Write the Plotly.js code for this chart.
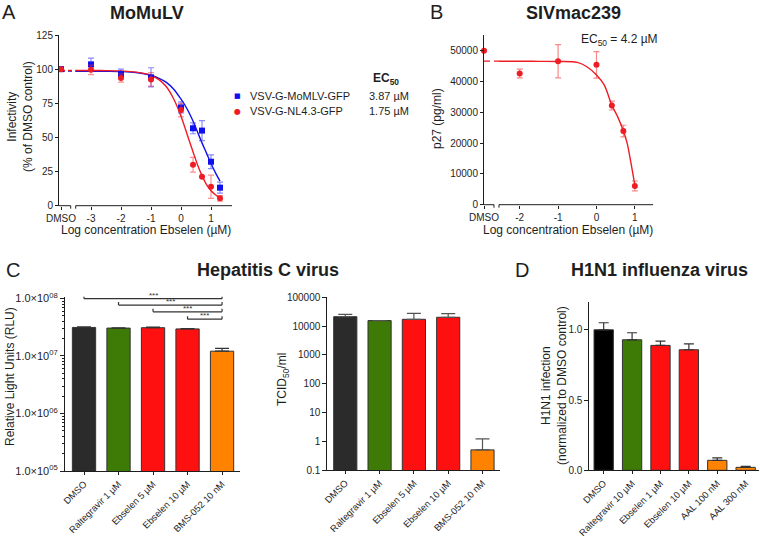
<!DOCTYPE html>
<html>
<head>
<meta charset="utf-8">
<script src="https://cdn.plot.ly/plotly-3.0.1.min.js"></script>
<style>html,body{margin:0;padding:0;background:#fff;}#chart{width:760px;height:538px;}</style>
</head>
<body>
<div id="chart"></div>
<script>
// ---------------- DATA ----------------
// Panel A: MoMuLV (log concentration Ebselen, µM)
const doseA = ['DMSO', -3, -2, -1, 0, 0.4, 0.7, 1, 1.3];
const momlvMean = [100, 103.5, 96.5, 94, 72, 56.7, 55, 32.2, 13.2];
const momlvErr  = [0, 4.5, 3.5, 7, 4, 4, 7.3, 5, 4];
const nl43Mean  = [100, 99.5, 93.5, 92.5, 70, 30, 21.2, 13.9, 5.4];
const nl43Err   = [0, 3.5, 3, 5, 5, 5.4, 0, 8.5, 2];
const fitXA     = [-3.51, -3, -2.5, -2, -1.5, -1, -0.75, -0.5, -0.25, 0, 0.2, 0.4, 0.55, 0.7, 0.85, 1.0, 1.15, 1.3];
const fitMomlv  = [98.5, 98.5, 98.4, 98.2, 97.5, 95.5, 93.5, 90.5, 85.5, 78, 71, 62, 54, 46, 38.5, 31, 24, 18];
const fitNl43   = [99, 99, 98.9, 98.6, 97.8, 95.5, 92.5, 87.5, 78.5, 65.5, 52.5, 39.5, 30, 22, 15.5, 11, 8, 5.5];
const seriesA   = ['VSV-G-MoMLV-GFP', 'VSV-G-NL4.3-GFP'];
const ec50A     = ['3.87 µM', '1.75 µM'];
const ticksA    = ['DMSO', '-3', '-2', '-1', '0', '1'];

// Panel B: SIVmac239
const doseB   = ['DMSO', -2, -1, 0, 0.4, 0.7, 1];
const p27Mean = [50000, 42600, 46600, 45400, 32200, 23900, 6100];
const p27Err  = [0, 1400, 5400, 4300, 1450, 1900, 1600];
const fitXB   = [-2.54, -2, -1.5, -1, -0.5, -0.25, 0, 0.2, 0.4, 0.55, 0.7, 0.8, 0.9, 1.0];
const fitP27  = [46600, 46600, 46550, 46500, 46200, 44800, 42100, 38900, 32300, 28600, 24000, 19900, 13400, 6300];
const ticksB  = ['DMSO', '-2', '-1', '0', '1'];
const p27Ticks = [0, 10000, 20000, 30000, 40000, 50000];

// Panel C: Hepatitis C virus
const hcvLabels = ['DMSO', 'Raltegravir 1 µM', 'Ebselen 5 µM', 'Ebselen 10 µM', 'BMS-052 10 nM'];
const rluMean   = [3.13e7, 3.05e7, 3.10e7, 2.95e7, 1.21e7];
const rluErr    = [0.06e7, 0.04e7, 0.06e7, 0.05e7, 0.14e7];
const rluTicks  = [1e5, 1e6, 1e7, 1e8];
const rluTickText = ['1.0×10<sup>05</sup>', '1.0×10<sup>06</sup>', '1.0×10<sup>07</sup>', '1.0×10<sup>08</sup>'];
const sigPairs  = [[0, 4], [1, 4], [2, 4], [3, 4]];
const sigText   = ['***', '***', '***', '***'];
const tcidMean  = [21200, 15500, 17200, 20200, 0.5];
const tcidErr   = [4500, 0, 10600, 6700, 0.7];
const tcidTicks = [0.1, 1, 10, 100, 1000, 10000, 100000];
const tcidTickText = ['0.1', '1', '10', '100', '1000', '10000', '100000'];

// Panel D: H1N1 influenza virus
const fluLabels = ['DMSO', 'Raltegravir 10 µM', 'Ebselen 1 µM', 'Ebselen 10 µM', 'AAL 100 nM', 'AAL 300 nM'];
const fluMean   = [1.0, 0.929, 0.889, 0.858, 0.071, 0.021];
const fluErr    = [0.05, 0.05, 0.03, 0.042, 0.018, 0.007];
const fluTicks  = [0, 0.5, 1.0];
const fluTickText = ['0.0', '0.5', '1.0'];

// ---------------- STYLE / LAYOUT ----------------
const FONT = 'Liberation Sans, Arial, Helvetica, sans-serif';
const W = 760, H = 538;
const px = v => v / W;
const py = v => 1 - v / H;
const INK = '#1e1e1e';
const BLUE = '#1010ee', RED = '#ee1c24', BARRED = '#ff1010';
const GREEN = '#3e7b06', ORANGE = '#ff8200', DARK = '#2b2b2b';
const hcvColors = [DARK, GREEN, BARRED, BARRED, ORANGE];
const fluColors = ['#000000', GREEN, BARRED, BARRED, ORANGE, ORANGE];

// broken axis geometry (axis units)
const dmsoA = -4, rangeA = [-4.067, 1.7], gapA = [-3.677, -3.51];
const dmsoB = -2.93, rangeB = [-2.93, 1.48], gapB = [-2.67, -2.54];

const mapDose = (arr, dmso) => arr.map(d => d === 'DMSO' ? dmso : d);
const tickPos = (labels, dmso) => labels.map(t => t === 'DMSO' ? dmso : Number(t));

function axisBase(extra) {
  return Object.assign({
    showline: true, linecolor: INK, linewidth: 1,
    ticks: 'outside', ticklen: 4, tickwidth: 1, tickcolor: INK,
    tickfont: {family: FONT, size: 10, color: INK},
    showgrid: false, zeroline: false, fixedrange: true
  }, extra);
}

const traces = [];

// ---- Panel A ----
const xA = mapDose(doseA, dmsoA);
traces.push({x: [dmsoA, gapA[1]], y: [fitMomlv[0], fitMomlv[0]], xaxis: 'x', yaxis: 'y', mode: 'lines',
  line: {color: BLUE, width: 1.3, dash: '4px,3px'}, hoverinfo: 'skip', showlegend: false});
traces.push({x: [dmsoA, gapA[1]], y: [fitNl43[0], fitNl43[0]], xaxis: 'x', yaxis: 'y', mode: 'lines',
  line: {color: RED, width: 1.3, dash: '4px,3px'}, hoverinfo: 'skip', showlegend: false});
traces.push({x: fitXA, y: fitMomlv, xaxis: 'x', yaxis: 'y', mode: 'lines', line: {color: BLUE, width: 1.4, shape: 'spline'}, showlegend: false});
traces.push({x: fitXA, y: fitNl43, xaxis: 'x', yaxis: 'y', mode: 'lines', line: {color: RED, width: 1.4, shape: 'spline'}, showlegend: false});
traces.push({x: xA, y: momlvMean, xaxis: 'x', yaxis: 'y', mode: 'markers', name: seriesA[0],
  marker: {symbol: 'square', size: 6, color: BLUE},
  error_y: {type: 'data', array: momlvErr, visible: true, color: 'rgba(40,40,255,0.55)', thickness: 1.2, width: 3},
  cliponaxis: false, showlegend: false});
traces.push({x: xA, y: nl43Mean, xaxis: 'x', yaxis: 'y', mode: 'markers', name: seriesA[1],
  marker: {symbol: 'circle', size: 6, color: RED},
  error_y: {type: 'data', array: nl43Err, visible: true, color: 'rgba(240,40,40,0.5)', thickness: 1.2, width: 3},
  cliponaxis: false, showlegend: false});

// ---- Panel B ----
const xB = mapDose(doseB, dmsoB);
traces.push({x: [dmsoB, gapB[1]], y: [fitP27[0], fitP27[0]], xaxis: 'x2', yaxis: 'y2', mode: 'lines',
  line: {color: RED, width: 1.3, dash: '6px,4px'}, hoverinfo: 'skip', showlegend: false});
traces.push({x: fitXB, y: fitP27, xaxis: 'x2', yaxis: 'y2', mode: 'lines', line: {color: RED, width: 1.4, shape: 'spline'}, showlegend: false});
traces.push({x: xB, y: p27Mean, xaxis: 'x2', yaxis: 'y2', mode: 'markers', name: 'SIVmac239',
  marker: {symbol: 'circle', size: 6, color: RED},
  error_y: {type: 'data', array: p27Err, visible: true, color: 'rgba(240,40,40,0.55)', thickness: 1.2, width: 3},
  cliponaxis: false, showlegend: false});

// ---- Panel C ----
const zeros = n => new Array(n).fill(0);
traces.push({type: 'bar', x: hcvLabels, y: rluMean, xaxis: 'x3', yaxis: 'y3', width: 0.675,
  marker: {color: hcvColors, line: {color: '#333', width: 1}},
  error_y: {type: 'data', symmetric: false, array: rluErr, arrayminus: zeros(rluErr.length), color: '#333', thickness: 1.2, width: 7},
  showlegend: false});
traces.push({type: 'bar', x: hcvLabels, y: tcidMean, xaxis: 'x4', yaxis: 'y4', width: 0.675,
  marker: {color: hcvColors, line: {color: '#333', width: 1}},
  error_y: {type: 'data', symmetric: false, array: tcidErr, arrayminus: zeros(tcidErr.length), color: '#555', thickness: 1.2, width: 7},
  showlegend: false});

// ---- Panel D ----
traces.push({type: 'bar', x: fluLabels, y: fluMean, xaxis: 'x5', yaxis: 'y5', width: 0.68,
  marker: {color: fluColors, line: {color: '#333', width: 1}},
  error_y: {type: 'data', symmetric: false, array: fluErr, arrayminus: zeros(fluErr.length), color: '#333', thickness: 1.2, width: 5},
  showlegend: false});

// ---------------- Layout ----------------
const catFont = {family: FONT, size: 9.4, color: INK};
const layout = {
  width: W, height: H, margin: {l: 0, r: 0, t: 0, b: 0},
  paper_bgcolor: '#fff', plot_bgcolor: 'rgba(0,0,0,0)',
  font: {family: FONT, color: INK},
  showlegend: false, bargap: 0,
  // A
  xaxis: axisBase({domain: [px(59), px(232)], range: rangeA, anchor: 'y', showline: false,
    tickvals: tickPos(ticksA, dmsoA), ticktext: ticksA, ticklen: 3}),
  yaxis: axisBase({domain: [py(205.7), py(35)], range: [0, 125], anchor: 'x', tickvals: [0, 25, 50, 75, 100, 125], ticklen: 3}),
  // B
  xaxis2: axisBase({domain: [px(484), px(653.3)], range: rangeB, anchor: 'y2', showline: false,
    tickvals: tickPos(ticksB, dmsoB), ticktext: ticksB, ticklen: 3}),
  yaxis2: axisBase({domain: [py(204.7), py(35)], range: [0, 55100], anchor: 'x2',
    tickvals: p27Ticks, ticktext: p27Ticks.map(String), ticklen: 3}),
  // C left
  xaxis3: axisBase({domain: [px(65), px(240)], range: [-0.551, 4.52], anchor: 'y3', type: 'category', tickangle: -45, ticklen: 3, tickfont: catFont}),
  yaxis3: axisBase({domain: [py(471), py(296.7)], type: 'log', range: [5, 8.03], anchor: 'x3',
    tickvals: rluTicks, ticktext: rluTickText, tickfont: {family: FONT, size: 11, color: INK},
    ticklen: 4, minor: {ticks: 'outside', ticklen: 2, tickcolor: INK, dtick: 'D1', showgrid: false}}),
  // C right
  xaxis4: axisBase({domain: [px(327.3), px(500)], range: [-0.524, 4.51], anchor: 'y4', type: 'category', tickangle: -45, ticklen: 3, tickfont: catFont}),
  yaxis4: axisBase({domain: [py(470), py(297.3)], type: 'log', range: [-1, 5], anchor: 'x4',
    tickvals: tcidTicks, ticktext: tcidTickText, ticklen: 4}),
  // D
  xaxis5: axisBase({domain: [px(589.3), px(759)], range: [-0.507, 5.47], anchor: 'y5', type: 'category', tickangle: -45, ticklen: 3, tickfont: catFont}),
  yaxis5: axisBase({domain: [py(470.3), py(301.7)], range: [0, 1.2], anchor: 'x5', tickvals: fluTicks, ticktext: fluTickText, ticklen: 4}),
  shapes: [],
  annotations: []
};

// broken x-axis line segments (A and B) with end ticks
function brokenAxisLines(xref, yref, range, gap) {
  const ln = {color: INK, width: 1};
  const yd = yref + ' domain';
  layout.shapes.push({type: 'line', xref: xref, yref: yd, x0: range[0], x1: gap[0], y0: 0, y1: 0, line: ln});
  layout.shapes.push({type: 'line', xref: xref, yref: yd, x0: gap[1], x1: range[1], y0: 0, y1: 0, line: ln});
  [gap[0], gap[1]].forEach(g => layout.shapes.push({type: 'line', xref: xref, yref: yd,
    ysizemode: 'pixel', yanchor: 0, x0: g, x1: g, y0: 0, y1: -3, line: ln}));
}
brokenAxisLines('x', 'y', rangeA, gapA);
brokenAxisLines('x2', 'y2', rangeB, gapB);

// significance brackets on panel C (levels as log10 of RLU)
const sigLevels = [7.995, 7.884, 7.767, 7.64];
sigPairs.forEach((p, i) => {
  const ln = {color: '#333', width: 1.2};
  const yv = Math.pow(10, sigLevels[i]);
  layout.shapes.push({type: 'line', xref: 'x3', yref: 'y3', x0: p[0], x1: p[1], y0: yv, y1: yv, line: ln});
  [p[0], p[1]].forEach(e => layout.shapes.push({type: 'line', xref: 'x3', yref: 'y3', ysizemode: 'pixel', yanchor: yv,
    x0: e, x1: e, y0: -3, y1: 3, line: ln}));
  layout.annotations.push({xref: 'x3', yref: 'y3', x: (p[0] + p[1]) / 2, y: sigLevels[i], text: sigText[i], showarrow: false,
    yanchor: 'bottom', yshift: -3, font: {family: FONT, size: 8, color: '#333'}});
});

// text annotations
function txt(x, y, text, size, opts) {
  layout.annotations.push(Object.assign({xref: 'paper', yref: 'paper', x: px(x), y: py(y), text: text, showarrow: false,
    xanchor: 'center', yanchor: 'middle', font: {family: FONT, size: size, color: INK}}, opts || {}));
}
// panel letters
txt(9, 12, 'A', 20);
txt(437, 12, 'B', 20);
txt(13, 270, 'C', 20);
txt(522, 270, 'D', 20);
// titles
txt(147, 13, '<b>MoMuLV</b>', 18);
txt(573, 13, '<b>SIVmac239</b>', 18);
txt(268, 270, '<b>Hepatitis C virus</b>', 18);
txt(659, 270, '<b>H1N1 influenza virus</b>', 18);
// axis titles
txt(20, 117, 'Infectivity<br>(% of DMSO control)', 12, {textangle: -90});
txt(146, 230, 'Log concentration Ebselen (µM)', 12);
txt(437, 118, 'p27 (pg/ml)', 12, {textangle: -90});
txt(568, 230, 'Log concentration Ebselen (µM)', 12);
txt(10, 377, 'Relative Light Units (RLU)', 12, {textangle: -90});
txt(283, 380, 'TCID<sub>50</sub>/ml', 12, {textangle: -90});
txt(554, 386, 'H1N1 infection<br>(normalized to DMSO control)', 12, {textangle: -90});
// panel A legend (EC50 table)
txt(371, 79, '<b>EC<sub>50</sub></b>', 12, {xanchor: 'left'});
txt(237, 96, '■', 7, {font: {family: 'DejaVu Sans', size: 7, color: BLUE}});
txt(237, 111, '●', 8, {font: {family: 'DejaVu Sans', size: 8, color: RED}});
txt(248, 96, seriesA[0], 11, {xanchor: 'left'});
txt(248, 111, seriesA[1], 11, {xanchor: 'left'});
txt(367, 96, ec50A[0], 11, {xanchor: 'left'});
txt(367, 111, ec50A[1], 11, {xanchor: 'left'});
// panel B EC50
txt(619, 40, 'EC<sub>50</sub> = 4.2 µM', 12);

Plotly.newPlot('chart', traces, layout, {displayModeBar: false, staticPlot: true});
</script>
</body>
</html>
